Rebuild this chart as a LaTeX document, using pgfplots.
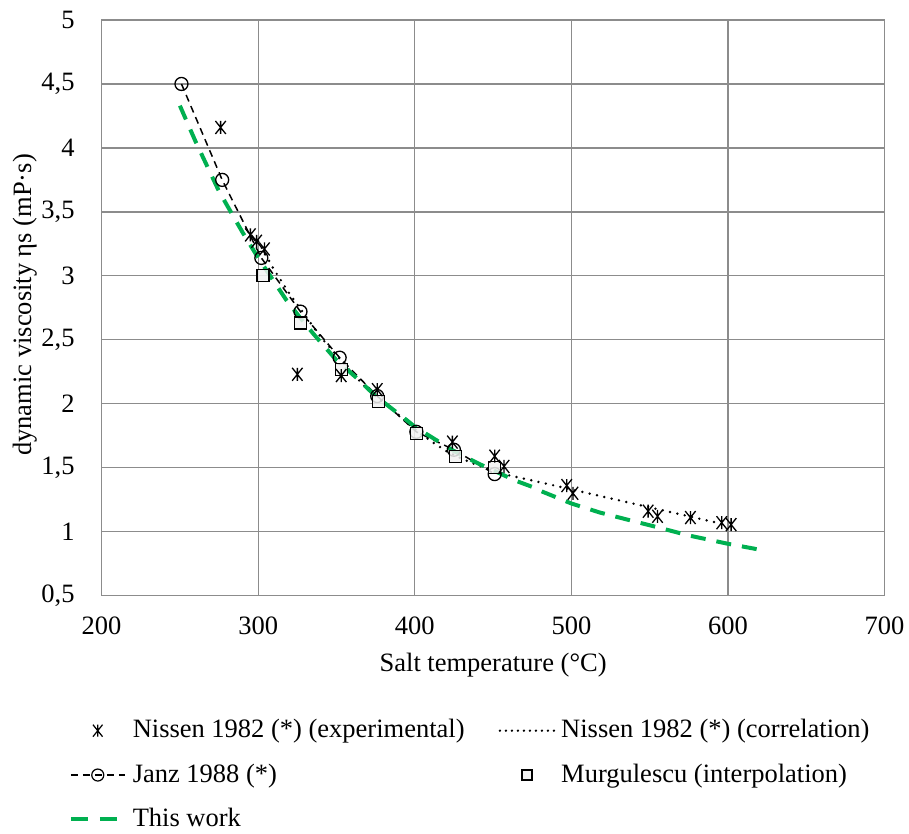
\documentclass[border=0pt]{standalone}
\usepackage{fontspec}
\setmainfont{Liberation Serif}
\usepackage{pgfplots}
\pgfplotsset{compat=1.18}
\definecolor{excelgreen}{RGB}{0,176,80}
\definecolor{gridgray}{RGB}{140,140,140}
\definecolor{sqfill}{RGB}{242,242,242}
\pgfdeclareplotmark{xstar}{%
  \pgfpathmoveto{\pgfqpoint{-0.8\pgfplotmarksize}{-\pgfplotmarksize}}%
  \pgfpathlineto{\pgfqpoint{0.8\pgfplotmarksize}{\pgfplotmarksize}}%
  \pgfpathmoveto{\pgfqpoint{-0.8\pgfplotmarksize}{\pgfplotmarksize}}%
  \pgfpathlineto{\pgfqpoint{0.8\pgfplotmarksize}{-\pgfplotmarksize}}%
  \pgfpathmoveto{\pgfqpoint{0pt}{-\pgfplotmarksize}}%
  \pgfpathlineto{\pgfqpoint{0pt}{\pgfplotmarksize}}%
  \pgfusepathqstroke}
\newcommand{\bigfont}{\rmfamily\fontsize{26.5bp}{31bp}\selectfont}
\begin{document}
\bigfont
\begin{tikzpicture}[font=\bigfont]
\useasboundingbox (-101.6bp,-238.4bp) rectangle (807.4bp,595.6bp);
\begin{axis}[
  scale only axis,
  width=783bp, height=575.6bp,
  xmin=200, xmax=700, ymin=0.5, ymax=5,
  xtick={200,300,...,700},
  ytick={0.5,1,1.5,2,2.5,3,3.5,4,4.5,5},
  /pgf/number format/assume math mode=true,
  /pgf/number format/use comma,
  /pgf/number format/1000 sep={},
  major tick length=0pt,
  grid=major,
  major grid style={gridgray, line width=1.3bp},
  axis line style={gridgray, line width=1.3bp},
  tick label style={font=\bigfont},
  xticklabel style={yshift=-12bp},
  yticklabel style={xshift=-18bp},
  label style={font=\bigfont},
  xlabel={Salt temperature (°C)},
  ylabel={dynamic viscosity ηs (mP·s)},
  xlabel style={at={(axis description cs:0.5,-0.1206)}, anchor=center},
  ylabel style={at={(axis description cs:-0.098,0.505)}, anchor=center},
  legend columns=2,
  legend cell align=left,
  legend style={draw=none, fill=none, at={(axis description cs:-0.046,-0.208)}, anchor=north west,
    font=\bigfont, row sep=18bp,
    /tikz/every even column/.append style={column sep=32bp},
    /tikz/every odd column/.append style={column sep=4bp}},
  legend image code/.code={\draw[mark repeat=2,mark phase=2,#1] plot coordinates {(0bp,0bp) (27bp,0bp) (54bp,0bp)};},
]
\addlegendimage{only marks, mark=xstar, mark size=6bp, mark options={black, line width=1.2bp, solid}}
\addlegendimage{black, line width=2.6bp, line cap=round, dash pattern=on 0bp off 6bp}
\addlegendimage{black, line width=1.5bp, dash pattern=on 7bp off 5bp, mark=o, mark size=6bp, mark options={solid, fill=white, line width=1.2bp}}
\addlegendimage{only marks, mark=square*, mark size=5bp, mark options={draw=black, fill=sqfill, line width=1.2bp}}
\addlegendimage{excelgreen, line width=4bp, dash pattern=on 17bp off 12bp}
\legend{Nissen 1982 (*) (experimental), Nissen 1982 (*) (correlation), Janz 1988 (*), Murgulescu (interpolation), This work}

% Janz 1988
\addplot[forget plot, black, line width=1.5bp, dash pattern=on 7bp off 5bp, mark=o, mark size=6.5bp, mark options={solid, fill=white, line width=1.3bp}]
coordinates {(251,4.50) (277,3.75) (302,3.14) (327,2.72) (352,2.36) (376,2.06) (401,1.78) (425,1.64) (451,1.45)};

% Nissen correlation
\addplot[forget plot, black, line width=2.7bp, line cap=round, dash pattern=on 0bp off 7.5bp]
coordinates {(300,3.27) (310,3.05) (320,2.86) (330,2.69) (340,2.52) (350,2.38) (360,2.24) (370,2.11) (380,2.01) (390,1.91) (400,1.80) (410,1.71) (420,1.63) (430,1.57) (440,1.52) (450,1.48) (460,1.44) (475,1.40) (500,1.33) (525,1.26) (550,1.19) (575,1.12) (600,1.05)};

% This work
\addplot[forget plot, excelgreen, line width=4bp, dash pattern=on 15bp off 11bp]
coordinates {(250,4.33) (260,4.05) (275,3.66) (290,3.34) (300,3.14) (318,2.81) (325,2.70) (335,2.55) (350,2.34) (363,2.20) (375,2.06) (395,1.87) (400,1.82) (425,1.63) (441,1.53) (450,1.48) (464,1.40) (475,1.35) (480,1.32) (500,1.22) (518,1.15) (537,1.09) (550,1.05) (575,0.97) (600,0.905) (622,0.855)};

% Murgulescu
\addplot[forget plot, only marks, mark=square*, mark size=6bp, mark options={draw=black, fill=sqfill, fill opacity=0.85, line width=1.3bp}]
coordinates {(303,3.00) (327,2.63) (353,2.27) (377,2.02) (401,1.77) (426,1.59) (451,1.50)};

% Nissen experimental
\addplot[forget plot, only marks, mark=xstar, mark size=6.5bp, mark options={black, line width=1.3bp}]
coordinates {(276,4.16) (295,3.32) (299,3.27) (304,3.21) (325,2.23) (353,2.22) (376,2.11) (424,1.70) (451,1.59) (457,1.51) (497,1.36) (501,1.30) (549,1.16) (555,1.12) (576,1.11) (596,1.07) (602,1.055)};
\end{axis}
\end{tikzpicture}
\end{document}
